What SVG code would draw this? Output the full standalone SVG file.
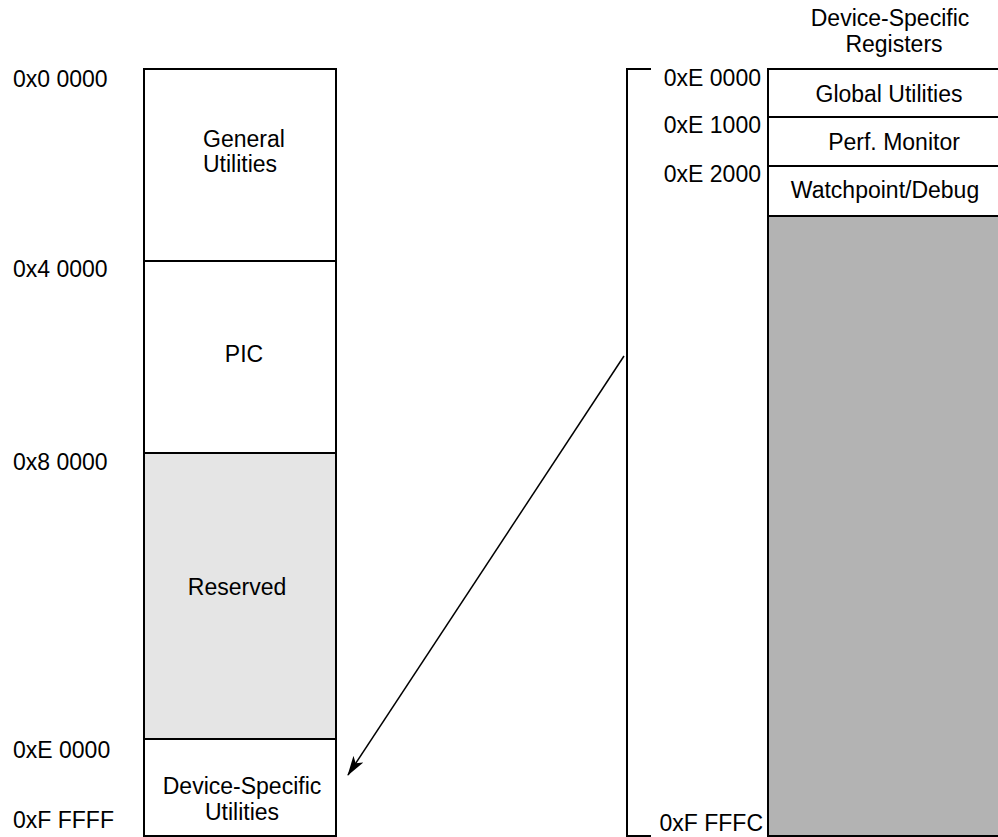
<svg xmlns="http://www.w3.org/2000/svg" width="998" height="837" viewBox="0 0 998 837">
<style>
text{font-family:"Liberation Sans",Arial,Helvetica,sans-serif;font-size:23px;fill:#000}
.c{text-anchor:middle}
.e{text-anchor:end}
.box{stroke:#000;stroke-width:2;fill:#fff}
.res{fill:#e5e5e5}
.dk{fill:#b3b3b3}
.conn{stroke:#000;stroke-width:1.5;fill:none}
</style>
<defs>
<marker id="ah" viewBox="0 0 20 12" refX="19" refY="6" markerWidth="20" markerHeight="12" markerUnits="userSpaceOnUse" orient="auto">
<path d="M0,0 L20,6 L0,12 L5,6 Z" fill="#000"/>
</marker>
</defs>
<g id="left-labels">
<text x="13" y="87">0x0 0000</text>
<text x="13" y="277">0x4 0000</text>
<text x="13" y="470">0x8 0000</text>
<text x="13" y="758">0xE 0000</text>
<text x="13" y="828">0xF FFFF</text>
</g>
<g id="general-utilities">
<rect class="box" x="144" y="69" width="192" height="192"/>
<text x="203" y="147">General</text>
<text x="203" y="172">Utilities</text>
</g>
<g id="pic">
<rect class="box" x="144" y="261" width="192" height="192"/>
<text class="c" x="244" y="362">PIC</text>
</g>
<g id="reserved">
<rect class="box res" x="144" y="453" width="192" height="286"/>
<text class="c" x="237" y="595">Reserved</text>
</g>
<g id="device-specific-utilities">
<rect class="box" x="144" y="739" width="192" height="97"/>
<text class="c" x="242" y="794">Device-Specific</text>
<text class="c" x="242" y="820">Utilities</text>
</g>
<g id="device-specific-registers">
<text class="c" x="890" y="26">Device-Specific</text>
<text class="c" x="894" y="52">Registers</text>
<path class="conn" style="stroke-width:2" d="M651,69 H627 V836 H651"/>
<text class="e" x="761" y="86">0xE 0000</text>
<text class="e" x="761" y="133">0xE 1000</text>
<text class="e" x="761" y="182">0xE 2000</text>
<text class="e" x="763" y="831">0xF FFFC</text>
</g>
<g id="global-utilities">
<rect class="box" x="768" y="69" width="240" height="48"/>
<text class="c" x="889" y="102">Global Utilities</text>
</g>
<g id="perf-monitor">
<rect class="box" x="768" y="117" width="240" height="49"/>
<text class="c" x="894" y="150">Perf. Monitor</text>
</g>
<g id="watchpoint-debug">
<rect class="box" x="768" y="166" width="240" height="50"/>
<text class="c" x="885" y="198">Watchpoint/Debug</text>
</g>
<g id="reserved-registers">
<rect class="box dk" x="768" y="216" width="240" height="620"/>
</g>
<g id="connectors">
<line class="conn" x1="624" y1="356" x2="348" y2="775" marker-end="url(#ah)"/>
</g>
</svg>
